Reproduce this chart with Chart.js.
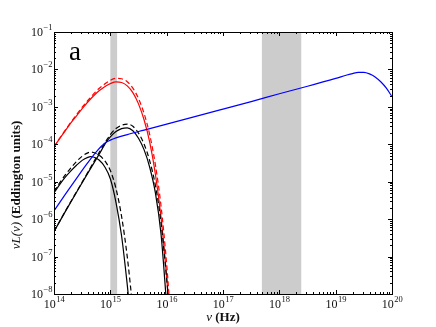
<!DOCTYPE html>
<html>
<head>
<meta charset="utf-8">
<script src="https://cdn.jsdelivr.net/npm/chart.js@4.4.1/dist/chart.umd.min.js"></script>
<style>
  body { margin: 0; background: #fff; }
</style>
</head>
<body>
<canvas id="sedChart" width="436" height="327"></canvas>
<script>
'use strict';

// values, as log10(nu / Hz) and log10(nu L_nu)
const redSolidX = [14.0, 14.1, 14.2, 14.3, 14.4, 14.5, 14.6, 14.7, 14.8, 14.9, 15.0, 15.1, 15.2, 15.3, 15.4, 15.5, 15.6, 15.7, 15.8, 15.9, 16.0, 16.03];
const redSolidY = [-4.07, -3.85, -3.64, -3.43, -3.24, -3.05, -2.87, -2.71, -2.57, -2.46, -2.38, -2.33, -2.35, -2.44, -2.62, -2.92, -3.35, -3.95, -4.8, -5.95, -7.55, -8.1];
const redDashX = [14.0, 14.1, 14.2, 14.3, 14.4, 14.5, 14.6, 14.7, 14.8, 14.9, 15.0, 15.1, 15.2, 15.3, 15.4, 15.5, 15.6, 15.7, 15.8, 15.9, 16.0, 16.05];
const redDashY = [-4.07, -3.84, -3.62, -3.41, -3.21, -3.01, -2.83, -2.66, -2.51, -2.39, -2.29, -2.24, -2.25, -2.33, -2.5, -2.78, -3.18, -3.75, -4.55, -5.65, -7.2, -8.2];

const hiSolidX = [14.0, 14.2, 14.4, 14.6, 14.8, 14.93, 15.0, 15.1, 15.2, 15.3, 15.4, 15.5, 15.6, 15.7, 15.8, 15.9, 16.0];
const hiSolidY = [-6.33, -5.80, -5.28, -4.77, -4.27, -3.94, -3.80, -3.66, -3.58, -3.56, -3.64, -3.84, -4.15, -4.62, -5.3, -6.4, -8.3];
const hiDashX = [14.0, 14.2, 14.4, 14.6, 14.8, 14.93, 15.0, 15.1, 15.2, 15.3, 15.4, 15.5, 15.6, 15.7, 15.8, 15.9, 16.0, 16.05];
const hiDashY = [-6.33, -5.79, -5.27, -4.75, -4.22, -3.9, -3.74, -3.58, -3.49, -3.46, -3.52, -3.70, -4.0, -4.45, -5.1, -6.1, -7.6, -8.5];

const loSolidX = [14.0, 14.1, 14.2, 14.3, 14.4, 14.5, 14.6, 14.65, 14.7, 14.8, 14.9, 15.0, 15.1, 15.2, 15.3, 15.33];
const loSolidY = [-5.30, -5.08, -4.88, -4.71, -4.56, -4.43, -4.35, -4.33, -4.34, -4.42, -4.6, -4.92, -5.55, -6.45, -7.75, -8.2];
const loDashX = [14.0, 14.1, 14.2, 14.3, 14.4, 14.5, 14.6, 14.65, 14.7, 14.8, 14.9, 15.0, 15.1, 15.2, 15.3, 15.4];
const loDashY = [-5.26, -5.03, -4.82, -4.63, -4.46, -4.32, -4.23, -4.21, -4.22, -4.29, -4.44, -4.7, -5.18, -5.93, -7.0, -8.4];

const blueX = [14.0, 14.2, 14.4, 14.6, 14.75, 14.9, 15.0, 15.1, 15.3, 15.6, 16.0, 16.5, 17.0, 17.5, 18.0, 18.5, 19.0, 19.2, 19.3, 19.4, 19.5, 19.6, 19.7, 19.8, 19.9, 20.0];
const blueY = [-5.78, -5.34, -4.91, -4.49, -4.20, -3.97, -3.89, -3.83, -3.74, -3.62, -3.46, -3.26, -3.06, -2.86, -2.65, -2.45, -2.24, -2.15, -2.11, -2.08, -2.08, -2.12, -2.2, -2.33, -2.5, -2.73];

// shaded frequency bands (Hz)
const bandStart = [1.0e15, 4.9e17];
const bandEnd = [1.32e15, 2.45e18];

// axis decades
const xDecades = [14, 15, 16, 17, 18, 19, 20];
const yDecades = [-8, -7, -6, -5, -4, -3, -2, -1];

const toPoints = (xs, ys) => xs.map((v, i) => ({ x: Math.pow(10, v), y: Math.pow(10, ys[i]) }));

const serif = '"Liberation Serif", "DejaVu Serif", serif';

function drawPower(ctx, exp, x, y, align) {
  const base = '10';
  const sup = exp < 0 ? '\u2212' + Math.abs(exp) : String(exp);
  ctx.font = '12px ' + serif;
  const wb = ctx.measureText(base).width;
  ctx.font = '8.5px ' + serif;
  const ws = ctx.measureText(sup).width;
  let x0 = align === 'center' ? x - (wb + ws) / 2 : x - (wb + ws);
  ctx.textAlign = 'left';
  ctx.textBaseline = 'alphabetic';
  ctx.font = '12px ' + serif;
  ctx.fillText(base, x0, y);
  ctx.font = '8.5px ' + serif;
  ctx.fillText(sup, x0 + wb + 0.5, y - 6);
}

const bandsPlugin = {
  id: 'bands',
  beforeDatasetsDraw(chart) {
    const { ctx, chartArea, scales } = chart;
    ctx.save();
    ctx.fillStyle = '#cccccc';
    bandStart.forEach((b, i) => {
      const x1 = scales.x.getPixelForValue(b);
      const x2 = scales.x.getPixelForValue(bandEnd[i]);
      ctx.fillRect(x1, chartArea.top, x2 - x1, chartArea.bottom - chartArea.top);
    });
    ctx.restore();
  }
};

const framePlugin = {
  id: 'frame',
  afterDraw(chart) {
    const { ctx, chartArea, scales } = chart;
    const { left, right, top, bottom } = chartArea;
    ctx.save();
    ctx.strokeStyle = '#000';
    ctx.lineWidth = 1;
    ctx.strokeRect(left + 0.5, top + 0.5, right - left, bottom - top);

    // ticks on all four sides, pointing in
    ctx.beginPath();
    xDecades.forEach(e => {
      for (let k = 1; k <= 9; k++) {
        const v = k * Math.pow(10, e);
        if (v > 1e20 * 1.0001) continue;
        const px = Math.round(scales.x.getPixelForValue(v)) + 0.5;
        const len = k === 1 ? 4 : 2;
        ctx.moveTo(px, bottom); ctx.lineTo(px, bottom - len);
        ctx.moveTo(px, top); ctx.lineTo(px, top + len);
      }
    });
    yDecades.forEach(e => {
      for (let k = 1; k <= 9; k++) {
        const v = k * Math.pow(10, e);
        if (v > 0.1 * 1.0001) continue;
        const py = Math.round(scales.y.getPixelForValue(v)) + 0.5;
        const len = k === 1 ? 4 : 2;
        ctx.moveTo(left, py); ctx.lineTo(left + len, py);
        ctx.moveTo(right, py); ctx.lineTo(right - len, py);
      }
    });
    ctx.stroke();

    // tick labels
    ctx.fillStyle = '#111';
    xDecades.forEach(e => {
      drawPower(ctx, e, scales.x.getPixelForValue(Math.pow(10, e)), bottom + 14, 'center');
    });
    yDecades.forEach(e => {
      drawPower(ctx, e, left - 2, scales.y.getPixelForValue(Math.pow(10, e)) + 4, 'right');
    });

    // x axis title
    ctx.textBaseline = 'alphabetic';
    ctx.textAlign = 'left';
    ctx.font = 'italic 13px ' + serif;
    const nu = '\u03bd';
    const wNu = ctx.measureText(nu + ' ').width;
    ctx.font = 'bold 13px ' + serif;
    const wHz = ctx.measureText('(Hz)').width;
    let xs = (left + right) / 2 - (wNu + wHz) / 2;
    ctx.font = 'italic 13px ' + serif;
    ctx.fillText(nu + ' ', xs, 321);
    ctx.font = 'bold 13px ' + serif;
    ctx.fillText('(Hz)', xs + wNu, 321);

    // y axis title
    ctx.save();
    ctx.translate(20, 185);
    ctx.rotate(-Math.PI / 2);
    ctx.font = 'italic 13px ' + serif;
    const p1 = '\u03bdL(\u03bd) ';
    const w1 = ctx.measureText(p1).width;
    ctx.font = 'bold 13px ' + serif;
    const p2 = '(Eddington units)';
    const w2 = ctx.measureText(p2).width;
    const y0 = -(w1 + w2) / 2;
    ctx.font = 'italic 13px ' + serif;
    ctx.fillText(p1, y0, 0);
    ctx.font = 'bold 13px ' + serif;
    ctx.fillText(p2, y0 + w1, 0);
    ctx.restore();

    // panel letter
    ctx.fillStyle = '#000';
    ctx.font = '27px ' + serif;
    ctx.fillText('a', 69, 60);
    ctx.restore();
  }
};

const line = (label, xs, ys, color, dashed) => ({
  label: label,
  data: toPoints(xs, ys),
  borderColor: color,
  borderWidth: 1.2,
  borderDash: dashed ? [5, 3] : [],
  pointRadius: 0,
  fill: false,
  cubicInterpolationMode: 'monotone'
});

const ctx = document.getElementById('sedChart').getContext('2d');
new Chart(ctx, {
  type: 'line',
  data: {
    datasets: [
      line('blue', blueX, blueY, '#0000ff', false),
      line('lo solid', loSolidX, loSolidY, '#000000', false),
      line('lo dashed', loDashX, loDashY, '#000000', true),
      line('hi solid', hiSolidX, hiSolidY, '#000000', false),
      line('hi dashed', hiDashX, hiDashY, '#000000', true),
      line('red solid', redSolidX, redSolidY, '#ff0000', false),
      line('red dashed', redDashX, redDashY, '#ff0000', true)
    ]
  },
  options: {
    responsive: false,
    animation: false,
    devicePixelRatio: 1,
    events: [],
    layout: { padding: { left: 54, right: 44, top: 32, bottom: 33 } },
    plugins: { legend: { display: false }, tooltip: { enabled: false } },
    scales: {
      x: { type: 'logarithmic', min: 1e14, max: 1e20, display: false },
      y: { type: 'logarithmic', min: 1e-8, max: 1e-1, display: false }
    }
  },
  plugins: [bandsPlugin, framePlugin]
});
</script>
</body>
</html>
